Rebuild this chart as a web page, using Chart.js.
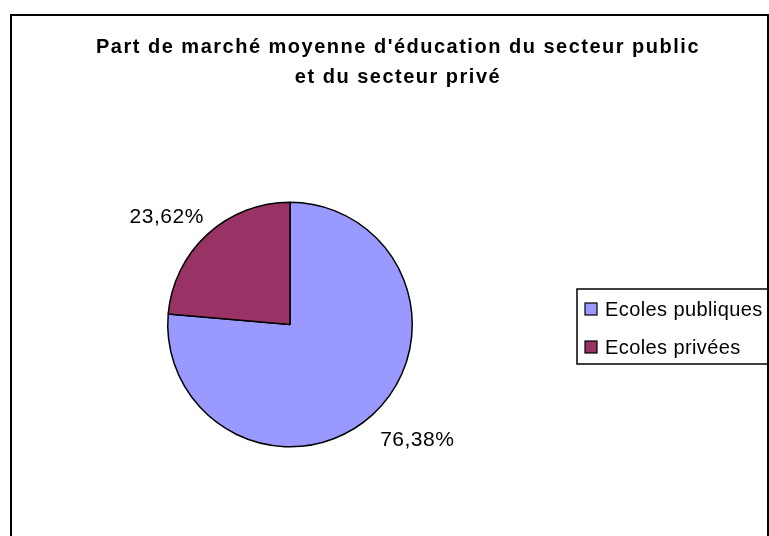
<!DOCTYPE html>
<html>
<head>
<meta charset="utf-8">
<script src="https://cdn.jsdelivr.net/npm/chart.js@4/dist/chart.umd.min.js"></script>
<style>
  html, body { margin: 0; padding: 0; background: #fff; }
  #wrap { width: 769px; height: 536px; position: relative; }
</style>
</head>
<body>
<div id="wrap"><canvas id="myChart" width="769" height="536"></canvas></div>
<script>
// chart data
const titleLines = ["Part de marché moyenne d'éducation du secteur public", "et du secteur privé"];
const categories = ['Ecoles publiques', 'Ecoles privées'];
const shares = [76.38, 23.62];
const sliceColors = ['#9999FF', '#993366'];

const FONT = '"Liberation Sans", Arial, sans-serif';

// outer frame, title, value labels and boxed legend
const decorPlugin = {
    id: 'decor',
    beforeDraw(chart) {
        const ctx = chart.ctx;
        ctx.save();
        ctx.fillStyle = '#fff';
        ctx.fillRect(0, 0, chart.width, chart.height);
        ctx.strokeStyle = '#000';
        ctx.lineWidth = 2;
        ctx.strokeRect(11, 15, 757, 540);
        ctx.restore();
    },
    afterDraw(chart) {
        const ctx = chart.ctx;
        ctx.save();

        // title
        ctx.fillStyle = '#000';
        ctx.font = 'bold 20px ' + FONT;
        ctx.letterSpacing = '1.5px';
        ctx.textAlign = 'center';
        ctx.textBaseline = 'alphabetic';
        titleLines.forEach((line, i) => ctx.fillText(line, 398, 53 + i * 30));

        // value labels outside the slices
        ctx.font = '21px ' + FONT;
        ctx.letterSpacing = '0.5px';
        ctx.textBaseline = 'middle';
        const meta = chart.getDatasetMeta(0);
        meta.data.forEach((arc, i) => {
            const p = arc.getProps(['x', 'y', 'startAngle', 'endAngle', 'outerRadius'], true);
            const mid = (p.startAngle + p.endAngle) / 2;
            const dx = Math.cos(mid), dy = Math.sin(mid);
            const txt = shares[i].toFixed(2).replace('.', ',') + '%';
            const w = ctx.measureText(txt).width;
            const gx = p.outerRadius + 26 + w / 2;
            const gy = p.outerRadius + 29;
            ctx.fillText(txt, p.x + dx * gx + 2, p.y + dy * gy + 4);
        });

        // legend
        const lx = 577, ly = 289;
        ctx.strokeStyle = '#000';
        ctx.lineWidth = 1.5;
        ctx.strokeRect(lx, ly, 220, 75);
        ctx.textAlign = 'left';
        ctx.font = '20px ' + FONT;
        ctx.letterSpacing = '0.4px';
        categories.forEach((cat, i) => {
            const cy = 309 + i * 38;
            ctx.fillStyle = sliceColors[i];
            ctx.fillRect(585, cy - 6, 12, 12);
            ctx.lineWidth = 1.2;
            ctx.strokeRect(585, cy - 6, 12, 12);
            ctx.fillStyle = '#000';
            ctx.fillText(cat, 605, cy + 1);
        });
        ctx.restore();
    }
};

const ctx = document.getElementById('myChart').getContext('2d');
const chart = new Chart(ctx, {
    type: 'pie',
    data: {
        labels: categories,
        datasets: [{
            data: shares,
            backgroundColor: sliceColors,
            borderColor: '#000',
            borderWidth: 1.5
        }]
    },
    options: {
        responsive: false,
        animation: false,
        events: [],
        layout: {
            padding: { left: 167, right: 356, top: 201.5, bottom: 88.5 }
        },
        plugins: {
            legend: { display: false },
            title: { display: false },
            tooltip: { enabled: false }
        }
    },
    plugins: [decorPlugin]
});
</script>
</body>
</html>
